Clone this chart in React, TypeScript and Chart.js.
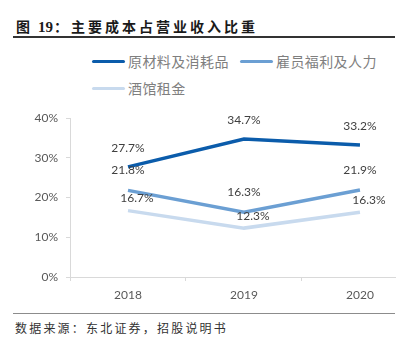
import React, { useEffect, useRef } from "react";
import { Chart, registerables } from "chart.js";

Chart.register(...registerables);

const categories = ["2018", "2019", "2020"];
const seriesNames = ["原材料及消耗品", "雇员福利及人力", "酒馆租金"];
const materials = [27.7, 34.7, 33.2];
const staff = [21.8, 16.3, 21.9];
const rent = [16.7, 12.3, 16.3];
const yTicks = [0, 10, 20, 30, 40];

const colors = ["#0B5CAB", "#6B9FD3", "#C8DAEE"];
const labelOffsets = [
  { dx: 0, dy: -19 },
  { dx: 0, dy: -20 },
  { dx: 9, dy: -12 },
];

const labelPlugin = {
  id: "valueLabels",
  afterDatasetsDraw(chart: any) {
    const ctx = chart.ctx;
    ctx.save();
    ctx.font = "12px Lato";
    ctx.fillStyle = "#404040";
    ctx.textAlign = "center";
    ctx.textBaseline = "middle";
    chart.data.datasets.forEach((ds: any, i: number) => {
      const meta = chart.getDatasetMeta(i);
      meta.data.forEach((pt: any, j: number) => {
        const v = ds.data[j].y;
        ctx.fillText(v.toFixed(1) + "%", pt.x + labelOffsets[i].dx, pt.y + labelOffsets[i].dy);
      });
    });
    ctx.restore();
  },
};

function ChartBox() {
  const ref = useRef<HTMLCanvasElement>(null);
  useEffect(() => {
    if (!ref.current) return;
    const all = [materials, staff, rent];
    const chart = new Chart(ref.current, {
      type: "line",
      data: {
        datasets: all.map((arr, i) => ({
          label: seriesNames[i],
          data: arr.map((v, j) => ({ x: j, y: v })),
          borderColor: colors[i],
          backgroundColor: colors[i],
          borderWidth: 3.5,
          pointRadius: 0,
          tension: 0,
        })),
      },
      options: {
        animation: false,
        responsive: false,
        maintainAspectRatio: false,
        layout: { padding: { top: 18, right: 10, left: 0, bottom: 0 } },
        plugins: { legend: { display: false }, tooltip: { enabled: false } },
        scales: {
          x: {
            type: "linear",
            min: -0.5,
            max: 2.302,
            afterBuildTicks: (s: any) => {
              s.ticks = [-0.5, 0, 0.5, 1, 1.5, 2].map((v) => ({ value: v }));
            },
            afterFit: (s: any) => {
              s.height = 28;
            },
            ticks: {
              autoSkip: false,
              maxRotation: 0,
              padding: 7,
              color: "#595959",
              font: { family: "Lato", size: 12 },
              callback: (v: any) => (Number.isInteger(v) ? categories[v] : ""),
            },
            grid: {
              drawOnChartArea: false,
              drawTicks: true,
              tickLength: 4,
              color: (c: any) =>
                c.tick && Number.isInteger(c.tick.value) ? "rgba(0,0,0,0)" : "#d9d9d9",
            },
            border: { color: "#d9d9d9" },
          },
          y: {
            min: 0,
            max: 40,
            afterBuildTicks: (s: any) => {
              s.ticks = yTicks.map((v) => ({ value: v }));
            },
            afterFit: (s: any) => {
              s.width = 70;
            },
            ticks: {
              padding: 8,
              color: "#595959",
              font: { family: "Lato", size: 12 },
              callback: (v: any) => v + "%",
            },
            grid: { drawOnChartArea: false, drawTicks: true, tickLength: 4, color: "#d9d9d9" },
            border: { color: "#d9d9d9" },
          },
        },
      },
      plugins: [labelPlugin],
    } as any);
    return () => chart.destroy();
  }, []);
  return <canvas ref={ref} width={405} height={205} style={{ position: "absolute", left: 0, top: 100, width: 405, height: 205 }} />;
}

function LegendItem({ i, left, top }: { i: number; left: number; top: number }) {
  return (
    <div style={{ position: "absolute", left, top, height: 20, display: "flex", alignItems: "center" }}>
      <div style={{ width: 33, height: 3, background: colors[i], borderRadius: 1.5, marginRight: 3 }} />
      <span style={{ fontFamily: "'Noto Sans CJK SC'", fontSize: 14, color: "#7f7f7f", letterSpacing: 0.4, lineHeight: "20px" }}>
        {seriesNames[i]}
      </span>
    </div>
  );
}

export default function App() {
  return (
    <div style={{ position: "absolute", left: 0, top: 0, width: 405, height: 346, background: "#fff", overflow: "hidden" }}>
      <div
        style={{
          position: "absolute",
          left: 16,
          top: 16,
          height: 20,
          lineHeight: "20px",
          fontFamily: "'Noto Sans CJK SC'",
          fontWeight: 700,
          fontSize: 14,
          color: "#1a1a1a",
          whiteSpace: "nowrap",
          letterSpacing: 3,
        }}
      >
        <span style={{ letterSpacing: 0 }}>图</span>
        <span style={{ fontFamily: "'Liberation Serif'", fontSize: 15, letterSpacing: 0, marginLeft: 8 }}>19</span>
        <span style={{ marginLeft: 1 }}>：主要成本占营业收入比重</span>
      </div>
      <div style={{ position: "absolute", left: 13, top: 36, width: 382, height: 1.5, background: "#333" }} />
      <LegendItem i={0} left={92} top={51} />
      <LegendItem i={1} left={240} top={51} />
      <LegendItem i={2} left={92} top={78} />
      <ChartBox />
      <div style={{ position: "absolute", left: 13, top: 312.5, width: 382, height: 1.5, background: "#8c8c8c" }} />
      <div
        style={{
          position: "absolute",
          left: 15,
          top: 318,
          height: 20,
          lineHeight: "20px",
          fontFamily: "'Noto Sans CJK SC'",
          fontSize: 12,
          color: "#333",
          letterSpacing: 2.2,
          whiteSpace: "nowrap",
        }}
      >
        数据来源：东北证券，招股说明书
      </div>
    </div>
  );
}
